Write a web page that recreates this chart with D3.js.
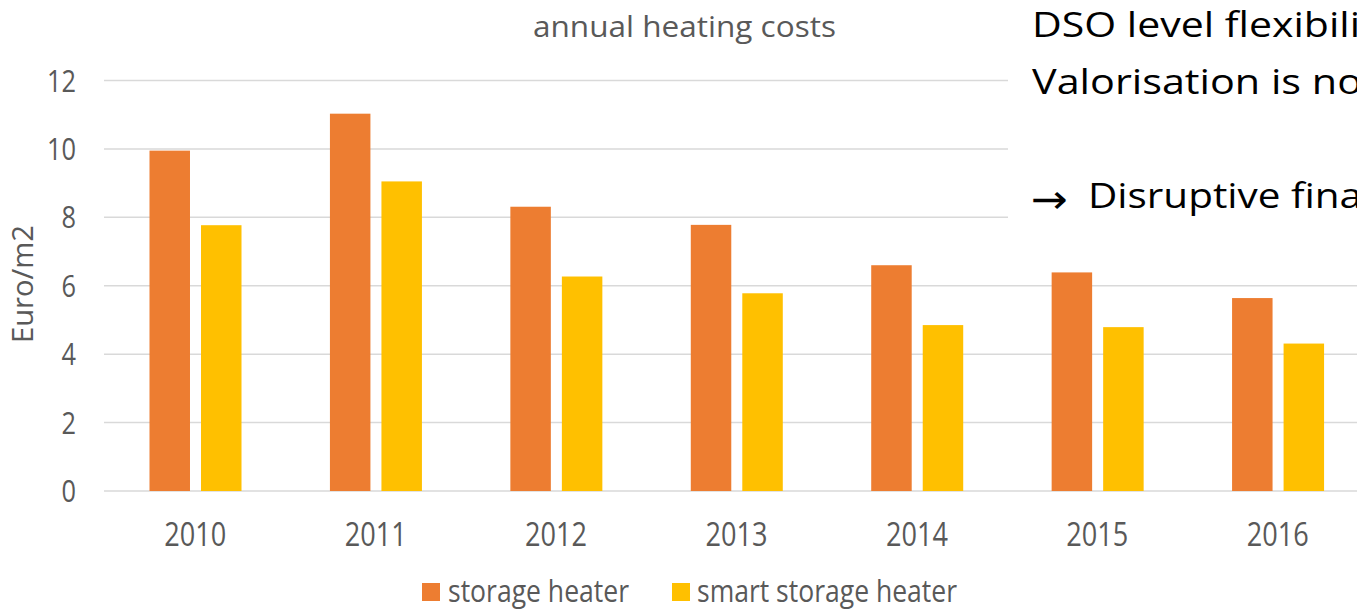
<!DOCTYPE html>
<html>
<head>
<meta charset="utf-8">
<script src="https://cdn.jsdelivr.net/npm/d3@7"></script>
<style>
  body { margin: 0; background: #fff; }
  svg { display: block; font-family: "Open Sans", "Noto Sans", sans-serif; }
</style>
</head>
<body>
<div id="chart"></div>
<script>
// data
var years = ["2010", "2011", "2012", "2013", "2014", "2015", "2016"];
var storageHeater = [9.95, 11.03, 8.31, 7.78, 6.6, 6.39, 5.64];
var smartStorageHeater = [7.77, 9.05, 6.27, 5.78, 4.85, 4.79, 4.31];
var seriesNames = ["storage heater", "smart storage heater"];
var seriesColours = ["#ED7D31", "#FFC000"];
var yTicks = [0, 2, 4, 6, 8, 10, 12];
var noteLines = ["DSO level flexibili", "Valorisation is no", "Disruptive fina"];

(function() {
  var width = 1357, height = 610;
  var grey = "#595959";

  var svg = d3.select("#chart").append("svg")
    .attr("width", width).attr("height", height);

  var x = d3.scaleBand().domain(years).range([105, 1368]);
  var xs = d3.scaleBand().domain(seriesNames)
    .range([44.5, 136.5]).paddingInner(0.214).paddingOuter(0);
  var y = d3.scaleLinear().domain([0, 12]).range([491, 80.5]);

  // gridlines
  svg.append("g").selectAll("line").data(yTicks).enter().append("line")
    .attr("x1", 104).attr("x2", width)
    .attr("y1", function(d) { return y(d); })
    .attr("y2", function(d) { return y(d); })
    .attr("stroke", "#D9D9D9").attr("stroke-width", 1.5);

  // y tick labels
  svg.append("g").selectAll("text").data(yTicks).enter().append("text")
    .attr("x", 76).attr("y", function(d) { return y(d) + 11; })
    .attr("text-anchor", "end").attr("fill", grey)
    .attr("font-size", 31)
    .attr("textLength", function(d) { return String(d).length * 14.5; })
    .attr("lengthAdjust", "spacingAndGlyphs")
    .text(function(d) { return d; });

  // bars
  var rows = years.map(function(yr, i) {
    return { year: yr, values: [storageHeater[i], smartStorageHeater[i]] };
  });
  var groups = svg.append("g").selectAll("g").data(rows).enter().append("g")
    .attr("transform", function(d) { return "translate(" + x(d.year) + ",0)"; });
  groups.selectAll("rect").data(function(d) {
    return d.values.map(function(v, j) { return { name: seriesNames[j], value: v, c: seriesColours[j] }; });
  }).enter().append("rect")
    .attr("x", function(d) { return xs(d.name); })
    .attr("width", xs.bandwidth())
    .attr("y", function(d) { return y(d.value); })
    .attr("height", function(d) { return y(0) - y(d.value); })
    .attr("fill", function(d) { return d.c; });

  // x tick labels
  svg.append("g").selectAll("text").data(years).enter().append("text")
    .attr("x", function(d) { return x(d) + x.bandwidth() / 2; })
    .attr("y", 546)
    .attr("text-anchor", "middle").attr("fill", grey)
    .attr("font-size", 32).attr("textLength", 62).attr("lengthAdjust", "spacingAndGlyphs")
    .text(function(d) { return d; });

  // title
  svg.append("text").attr("x", 533).attr("y", 37)
    .attr("fill", grey).attr("font-size", 30)
    .attr("textLength", 303).attr("lengthAdjust", "spacingAndGlyphs")
    .text("annual heating costs");

  // y axis label
  svg.append("text")
    .attr("transform", "translate(33,343) rotate(-90)")
    .attr("fill", grey).attr("font-size", 29)
    .attr("textLength", 118).attr("lengthAdjust", "spacingAndGlyphs")
    .text("Euro/m2");

  // legend
  var legendX = [422, 672], legendText = [448, 697], legendW = [181, 260];
  var legend = svg.append("g").selectAll("g").data(seriesNames).enter().append("g");
  legend.append("rect")
    .attr("x", function(d, i) { return legendX[i]; }).attr("y", 583)
    .attr("width", 18).attr("height", 18)
    .attr("fill", function(d, i) { return seriesColours[i]; });
  legend.append("text")
    .attr("x", function(d, i) { return legendText[i]; }).attr("y", 602)
    .attr("fill", grey).attr("font-size", 31)
    .attr("textLength", function(d, i) { return legendW[i]; })
    .attr("lengthAdjust", "spacingAndGlyphs")
    .text(function(d) { return d; });

  // overlapping slide text box
  svg.append("rect").attr("x", 1008).attr("y", 0)
    .attr("width", width - 1008).attr("height", 250).attr("fill", "#fff");
  var note = svg.append("g").attr("fill", "#000").attr("font-size", 35);
  note.append("text").attr("x", 1032).attr("y", 37)
    .attr("textLength", 328).attr("lengthAdjust", "spacingAndGlyphs").text(noteLines[0]);
  note.append("text").attr("x", 1032).attr("y", 94)
    .attr("textLength", 330).attr("lengthAdjust", "spacingAndGlyphs").text(noteLines[1]);
  note.append("text").attr("x", 1031).attr("y", 213)
    .attr("font-family", "DejaVu Sans").attr("font-size", 40)
    .attr("textLength", 37).attr("lengthAdjust", "spacingAndGlyphs").text("\u2192");
  note.append("text").attr("x", 1088).attr("y", 208)
    .attr("textLength", 274).attr("lengthAdjust", "spacingAndGlyphs").text(noteLines[2]);
})();
</script>
</body>
</html>
